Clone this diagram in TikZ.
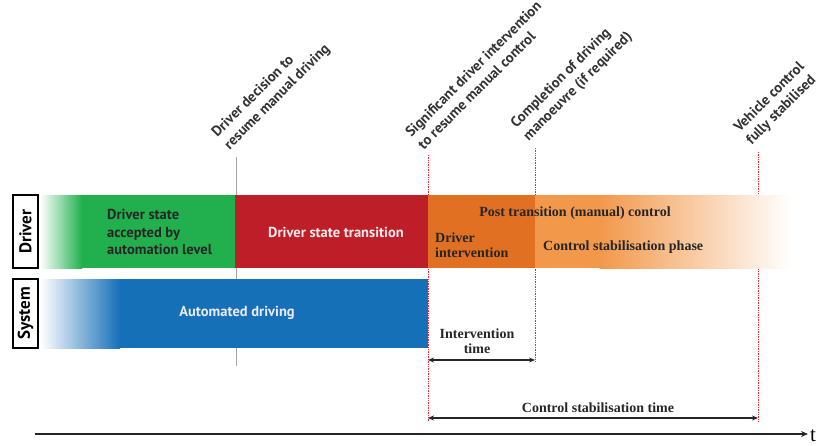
\documentclass[tikz,border=0pt]{standalone}
\usepackage{fontspec}
\setmainfont{Liberation Serif}
\newfontfamily\lblsans{PT Sans}
\usetikzlibrary{arrows.meta}
\definecolor{cgreen}{RGB}{34,176,78}
\definecolor{cred}{RGB}{190,30,40}
\definecolor{cblue}{RGB}{22,112,184}
\definecolor{corangeA}{RGB}{225,112,35}
\definecolor{corangeB}{RGB}{242,152,75}
\definecolor{cevent}{RGB}{235,40,50}
\tikzset{
  lanebox/.style={draw=black,line width=1.4pt,fill=white,minimum width=73pt,minimum height=25pt,inner sep=0pt,rotate=90,font=\lblsans\bfseries\fontsize{17}{18}\selectfont},
  evlabel/.style={rotate=45,anchor=south west,align=left,inner sep=1pt,font=\lblsans\bfseries\fontsize{14.5}{17.5}\selectfont,text=black!80},
  bartext/.style={font=\lblsans\bfseries\fontsize{14.5}{17.5}\selectfont,align=left,inner sep=0pt},
  sertext/.style={font=\bfseries\fontsize{14}{15}\selectfont,align=left,inner sep=0pt,text=black!85},
  evline/.style={cevent,line width=0.7pt,densely dotted},
  dimarrow/.style={{Stealth[length=6pt,width=5pt]}-{Stealth[length=6pt,width=5pt]},line width=1.2pt,black!85},
}
\begin{document}
\begin{tikzpicture}[x=1pt,y=-1pt]
\useasboundingbox (0,0) rectangle (830,445);
% event lines (behind bars)
\coordinate (e1t) at (236,157); \coordinate (e1b) at (236,366);
\coordinate (e2t) at (428,155); \coordinate (e2b) at (428,421);
\coordinate (e3t) at (535,148); \coordinate (e3b) at (535,362);
\coordinate (e4t) at (758,152); \coordinate (e4b) at (758,421);
\draw[black!35,line width=0.8pt] (e1t) -- (e1b);
\draw[evline] (e2t) -- (e2b);
\draw[evline] (e3t) -- (e3b);
\draw[evline] (e4t) -- (e4b);
% bars
\shade[left color=white,right color=cgreen] (40,195) rectangle (82,268);
\fill[cgreen] (81.5,195) rectangle (235,268);
\fill[cred] (235,195) rectangle (428,268);
\fill[corangeA] (428,195) rectangle (535,268);
\fill[corangeB] (535,195) rectangle (600,268);
\shade[left color=corangeB,right color=white] (599.5,195) rectangle (790,268);
\shade[left color=white,right color=cblue] (40,279) rectangle (120,348);
\fill[cblue] (119.5,279) rectangle (428,348);
% lane labels
\node[lanebox] (drv) at (25.5,231.5) {Driver};
\node[lanebox,minimum width=69pt] (sys) at (25.5,313.5) {System};
% event labels
\node[evlabel] (l1) at ([shift={(-4,-3)}]e1t) {Driver decision to\\resume manual driving};
\node[evlabel] (l2) at ([shift={(-4,-3)}]e2t) {Significant driver intervention\\to resume manual control};
\node[evlabel] (l3) at ([shift={(-4,-3)}]e3t) {Completion of driving\\manoeuvre (if required)};
\node[evlabel] (l4) at ([shift={(-4,-3)}]e4t) {Vehicle control\\fully stabilised};
% bar texts
\node[bartext,anchor=west,text=black!85] (t1) at (107,232) {Driver state\\accepted by\\automation level};
\node[bartext,text=red!8] (t2) at (336,232) {Driver state transition};
\node[bartext,text=white!92!blue] (t3) at (237,313) {Automated driving};
\node[sertext] (t4) at (575,213) {Post transition (manual) control};
\node[sertext,anchor=west] (t5) at (435,245) {Driver\\intervention};
\node[sertext,anchor=west] (t6) at (543,247) {Control stabilisation phase};
% dimension arrows
\coordinate (a1l) at (428,360); \coordinate (a1r) at (535,360);
\draw[dimarrow] (a1l) -- (a1r);
\node[sertext,align=center] (it) at (477,341) {Intervention\\time};
\coordinate (a2l) at (428,418); \coordinate (a2r) at (758,418);
\draw[dimarrow] (a2l) -- (a2r);
\node[sertext] (ct) at (598,408) {Control stabilisation time};
% time axis
\coordinate (ax0) at (35,434); \coordinate (ax1) at (808,434);
\draw[-{Stealth[length=7pt,width=6pt]},line width=1.2pt,black!85] (ax0) -- (ax1);
\node[font=\fontsize{21}{22}\selectfont,inner sep=0pt,anchor=west] (t) at (810,436) {t};
\end{tikzpicture}
\end{document}
